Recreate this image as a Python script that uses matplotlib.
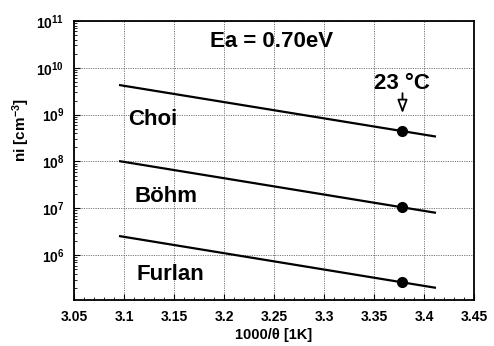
import matplotlib
matplotlib.use("Agg")
import matplotlib.pyplot as plt
import matplotlib.ticker as mticker
import numpy as np

plt.rcParams['font.family'] = ['Liberation Sans', 'DejaVu Sans']
plt.rcParams['font.weight'] = 'bold'
plt.rcParams['mathtext.fontset'] = 'custom'
plt.rcParams['mathtext.rm'] = 'Liberation Sans:bold'
plt.rcParams['mathtext.it'] = 'Liberation Sans:bold'
plt.rcParams['mathtext.bf'] = 'Liberation Sans:bold'
plt.rcParams['mathtext.sf'] = 'Liberation Sans:bold'
plt.rcParams['mathtext.default'] = 'rm'

# Data
line_x = [3.095, 3.412]
choi_y = [4.3e9, 3.4e8]
bohm_y = [1.02e8, 8.0e6]
furlan_y = [2.56e6, 2.0e5]
point_x = 3.3785
points_y = [4.45e8, 1.05e7, 2.63e5]
names = ["Choi", "Böhm", "Furlan"]
label_pos = [(3.104, 7.9e8), (3.111, 1.77e7), (3.113, 3.9e5)]
xticks = [3.05, 3.1, 3.15, 3.2, 3.25, 3.3, 3.35, 3.4, 3.45]

fig = plt.figure(figsize=(4.94, 3.46), dpi=100)
ax = fig.add_axes([74/494, 1 - 300/346, 400/494, 279/346])

for ys in (choi_y, bohm_y, furlan_y):
    ax.plot(line_x, ys, color='black', lw=1.6, solid_capstyle='butt')
ax.plot([point_x]*3, points_y, 'o', color='black', ms=7, zorder=5)

ax.set_yscale('log')
ax.set_xlim(3.05, 3.45)
ax.set_ylim(1.1e5, 1e11)
ax.set_xticks(xticks)
ax.set_xticklabels([f"{v:g}" for v in xticks])
ax.xaxis.set_minor_locator(mticker.MultipleLocator(0.01))
ax.yaxis.set_major_locator(mticker.LogLocator(base=10, numticks=20))
ax.yaxis.set_minor_locator(mticker.LogLocator(base=10, subs=np.arange(2, 10), numticks=20))
ax.yaxis.set_minor_formatter(mticker.NullFormatter())

ax.tick_params(which='both', direction='in', top=False, right=False)
ax.tick_params(which='major', length=4, width=0.8, labelsize=10, pad=7)
ax.tick_params(which='minor', length=2, width=0.6)
for lab in ax.get_xticklabels() + ax.get_yticklabels():
    lab.set_fontweight('bold')

ax.grid(True, which='major', color='#777777', linestyle=(0, (1.2, 1.2)), lw=0.7)
for s in ax.spines.values():
    s.set_linewidth(1.3)

ax.set_xlabel('1000/θ [1K]', fontsize=10.5, fontweight='bold', labelpad=3)
ax.set_ylabel(r'ni [cm$^{\mathregular{-3}}$]', fontsize=11, fontweight='bold')
ax.yaxis.set_label_coords(-0.105, 0.61)

ax.text(0.495, 0.928, 'Ea = 0.70eV', transform=ax.transAxes, ha='center', va='center',
        fontsize=16, fontweight='bold')
for name, (tx, ty) in zip(names, label_pos):
    ax.text(tx, ty, name, ha='left', va='center', fontsize=16, fontweight='bold')

ax.annotate('', xy=(point_x, 1.07e9), xytext=(point_x, 2.87e9),
            arrowprops=dict(arrowstyle='-|>,head_length=0.8,head_width=0.3',
                            facecolor='white', edgecolor='black', lw=1.3,
                            shrinkA=0, shrinkB=0))
ax.text(point_x - 0.001, 4.6e9, '23 °C', ha='center', va='center', fontsize=16, fontweight='bold')

fig.savefig('out.png', dpi=100)
